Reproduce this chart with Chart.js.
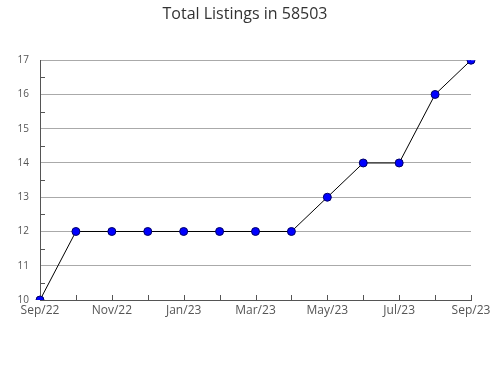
<!DOCTYPE html>
<html>
<head>
<meta charset="utf-8">
<script src="https://cdn.jsdelivr.net/npm/chart.js@4"></script>
<style>
  body { margin: 0; background: #fff; }
  #wrap { width: 490px; height: 380px; }
</style>
</head>
<body>
<div id="wrap"><canvas id="grafico"></canvas></div>
<script>
const meses = ["Sep/22", "Oct/22", "Nov/22", "Dec/22", "Jan/23", "Feb/23", "Mar/23",
               "Apr/23", "May/23", "Jun/23", "Jul/23", "Aug/23", "Sep/23"];
const listados = [10, 12, 12, 12, 12, 12, 12, 12, 13, 14, 14, 16, 17];
const yMin = 10;
const yMax = 17;

// ticks cortos hacia dentro, como en el original
const ticksInternos = {
  id: "ticksInternos",
  afterDatasetsDraw(chart) {
    const c = chart.ctx;
    const x = chart.scales.x;
    const y = chart.scales.y;
    c.save();
    c.strokeStyle = "#555";
    c.lineWidth = 1;
    c.beginPath();
    for (let i = 1; i < meses.length; i++) {
      const px = Math.round(x.getPixelForValue(i)) + 0.5;
      c.moveTo(px, y.bottom);
      c.lineTo(px, y.bottom - 5);
    }
    for (let v = yMin + 0.5; v < yMax; v++) {
      const py = Math.round(y.getPixelForValue(v)) + 0.5;
      c.moveTo(x.left, py);
      c.lineTo(x.left + 5, py);
    }
    c.stroke();
    c.restore();
  }
};

new Chart(document.getElementById("grafico"), {
  type: "line",
  data: {
    labels: meses,
    datasets: [{
      data: listados,
      borderColor: "#000",
      borderWidth: 1,
      tension: 0,
      pointRadius: 4,
      pointHoverRadius: 4,
      pointBackgroundColor: "#0000ff",
      pointBorderColor: "#000066",
      pointBorderWidth: 1
    }]
  },
  options: {
    responsive: true,
    maintainAspectRatio: false,
    animation: false,
    layout: { padding: { left: 0, right: 0, top: 0, bottom: 52 } },
    plugins: {
      legend: { display: false },
      tooltip: { enabled: false },
      title: {
        display: true,
        text: "Total Listings in 58503",
        color: "#333",
        font: { family: "Open Sans", size: 16, weight: "normal" },
        padding: { top: 5, bottom: 36 }
      }
    },
    scales: {
      x: {
        offset: false,
        grid: { display: false, drawTicks: false },
        border: { color: "#555", width: 1 },
        ticks: {
          autoSkip: false,
          maxRotation: 0,
          padding: 3,
          color: "#555",
          font: { family: "Open Sans", size: 12 },
          callback: (v, i) => (i % 2 === 0 ? meses[i] : "")
        },
        afterFit: s => {
          s.height = 28;
          s.paddingLeft = 0;
          s.paddingRight = 0;
        }
      },
      y: {
        min: yMin,
        max: yMax,
        grid: { color: "#aaa", drawTicks: false },
        border: { color: "#555", width: 1 },
        ticks: {
          stepSize: 1,
          padding: 11,
          color: "#555",
          font: { family: "Open Sans", size: 10 }
        },
        afterFit: s => { s.width = 40; }
      },
      margen: {
        position: "right",
        min: yMin,
        max: yMax,
        grid: { display: false, drawTicks: false },
        border: { display: false },
        ticks: { display: false },
        afterFit: s => { s.width = 19; }
      }
    }
  },
  plugins: [ticksInternos]
});
</script>
</body>
</html>
